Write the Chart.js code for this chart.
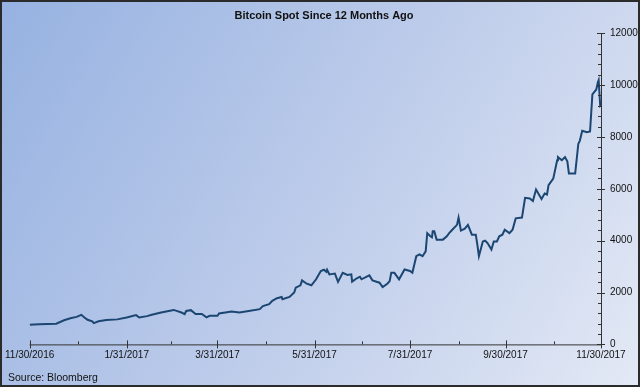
<!DOCTYPE html>
<html lang="en">
  <head>
    <meta charset="UTF-8" />
    <title>Bitcoin Spot Since 12 Months Ago</title>
    <style>
      * {
        margin: 0;
        padding: 0;
        box-sizing: border-box;
      }
      body {
        background: #ffffff;
      }
      .chartBox {
        width: 640px;
        height: 387px;
      }
    </style>
  </head>
  <body>
    <div class="chartBox">
      <canvas id="myChart"></canvas>
    </div>

    <script src="https://cdn.jsdelivr.net/npm/chart.js"></script>

    <script>
      // days since 11/30/2016 and spot price
      const days = [
        0, 6, 17, 22, 26, 30, 33, 35, 37, 40, 41, 44, 49, 56, 62, 68, 70, 75, 78,
        84, 92, 97, 99, 100, 103, 106, 110, 113, 115, 120, 121, 125, 129, 134,
        140, 147, 149, 153, 155, 158, 161, 161.5, 166, 169, 170, 173, 174, 177,
        180, 183, 186, 188, 189.5, 190, 191.5, 195, 197, 200, 203, 205.5, 206,
        209, 211, 212, 217, 219, 223.5, 225.5, 228.5, 230, 231, 233, 236, 239.5,
        243, 244.5, 247, 249, 251, 253, 254, 256, 257, 257.5, 258.5, 260, 264,
        266.5, 268, 270, 273, 274, 275.5, 278, 280, 282.5, 285, 286, 287, 289.5,
        291, 292.5, 295, 296.5, 298.5, 300, 302, 303.5, 306.5, 308.5, 310.5,
        314.5, 316.5, 319.5, 321.5, 323.5, 327, 329, 330.5, 331.5, 334.5, 337,
        337.5, 340, 342, 343.5, 344.5, 348.5, 350.5, 351.5, 353, 356, 358,
        359.5, 362, 363, 363.5, 364.5, 365,
      ];
      const spot = [
        760, 780, 800, 930, 1010, 1060, 1140, 1040, 950, 890, 820, 890, 940, 965,
        1040, 1130, 1040, 1090, 1140, 1230, 1330, 1230, 1170, 1290, 1320, 1170,
        1170, 1040, 1100, 1100, 1190, 1230, 1270, 1230, 1290, 1360, 1480, 1550,
        1680, 1780, 1830, 1740, 1830, 2000, 2190, 2280, 2470, 2340, 2280, 2510,
        2830, 2880, 2800, 2880, 2700, 2730, 2410, 2760, 2680, 2700, 2420, 2550,
        2610, 2510, 2660, 2470, 2380, 2210, 2340, 2440, 2760, 2760, 2510, 2890,
        2830, 2760, 3400, 3470, 3400, 3590, 4290, 4170, 4130, 4360, 4360, 4040,
        4040, 4170, 4290, 4420, 4610, 4890, 4390, 4460, 4610, 4230, 4230, 3850,
        3400, 3970, 4000, 3910, 3660, 3970, 3970, 4170, 4230, 4420, 4290, 4420,
        4860, 4890, 5650, 5630, 5530, 5970, 5610, 5820, 5780, 6140, 6390, 7100,
        7220, 7100, 7220, 7060, 6590, 6590, 7730, 7860, 8240, 8180, 8210, 9640,
        9830, 10110, 10190, 9200, 9230,
      ];
      const dateTicks = [0, 62, 120, 182, 243, 304, 365];
      const dateLabels = [
        "11/30/2016",
        "1/31/2017",
        "3/31/2017",
        "5/31/2017",
        "7/31/2017",
        "9/30/2017",
        "11/30/2017",
      ];
      const minorDays = [31, 90, 151, 212, 274, 335];
      const priceTicks = [0, 2000, 4000, 6000, 8000, 10000, 12000];
      const minorStep = 400;

      const ctx = document.getElementById("myChart");

      const points = days.map((d, i) => ({ x: d, y: spot[i] }));

      const panelBackground = {
        id: "panelBackground",
        beforeDraw(chart) {
          const { ctx, width, height } = chart;
          ctx.save();
          const grad = ctx.createLinearGradient(0, 0, width, height);
          grad.addColorStop(0, "#96b2e1");
          grad.addColorStop(0.5, "#bccbea");
          grad.addColorStop(1, "#e3e9f5");
          ctx.fillStyle = grad;
          ctx.fillRect(0, 0, width, height);
          ctx.strokeStyle = "#2b2b2b";
          ctx.lineWidth = 2;
          ctx.strokeRect(1, 1, width - 2, height - 2);
          ctx.restore();
        },
      };

      const axisLines = {
        id: "axisLines",
        afterDatasetsDraw(chart) {
          const { ctx, chartArea, scales } = chart;
          const { left, right, top, bottom } = chartArea;
          const x = scales.x;
          const y = scales.y;
          ctx.save();
          ctx.strokeStyle = "#333333";
          ctx.lineWidth = 1;
          ctx.beginPath();
          // x axis
          ctx.moveTo(left, bottom + 0.5);
          ctx.lineTo(right, bottom + 0.5);
          // y axis
          ctx.moveTo(right + 0.5, top);
          ctx.lineTo(right + 0.5, bottom);
          dateTicks.forEach((d) => {
            const px = Math.round(x.getPixelForValue(d)) + 0.5;
            ctx.moveTo(px, bottom - 4);
            ctx.lineTo(px, bottom + 4);
          });
          minorDays.forEach((d) => {
            const px = Math.round(x.getPixelForValue(d)) + 0.5;
            ctx.moveTo(px, bottom - 3);
            ctx.lineTo(px, bottom);
          });
          priceTicks.forEach((v) => {
            const py = Math.round(y.getPixelForValue(v)) + 0.5;
            ctx.moveTo(right - 4, py);
            ctx.lineTo(right + 4, py);
          });
          for (let v = minorStep; v < 12000; v += minorStep) {
            if (v % 2000 === 0) continue;
            const py = Math.round(y.getPixelForValue(v)) + 0.5;
            ctx.moveTo(right - 3, py);
            ctx.lineTo(right, py);
          }
          ctx.stroke();
          ctx.restore();
        },
      };

      const config = {
        type: "line",
        data: {
          datasets: [
            {
              label: "Bitcoin Spot",
              data: points,
              borderColor: "#1b4672",
              borderWidth: 2,
              pointRadius: 0,
              tension: 0,
              fill: false,
            },
          ],
        },
        options: {
          responsive: true,
          maintainAspectRatio: false,
          animation: false,
          layout: {
            padding: { left: 8, right: 0, top: 0, bottom: 0 },
          },
          scales: {
            x: {
              type: "linear",
              min: 0,
              max: 365,
              afterBuildTicks: (scale) => {
                scale.ticks = dateTicks.map((v) => ({ value: v }));
              },
              ticks: {
                autoSkip: false,
                maxRotation: 0,
                padding: 5,
                color: "#111111",
                font: { family: "Liberation Sans", size: 10 },
                callback: (v) => dateLabels[dateTicks.indexOf(v)],
              },
              grid: { display: false, drawTicks: false },
              border: { display: false },
            },
            y: {
              position: "right",
              min: 0,
              max: 12000,
              afterBuildTicks: (scale) => {
                scale.ticks = priceTicks.map((v) => ({ value: v }));
              },
              afterFit: (scale) => {
                scale.width = 39;
              },
              ticks: {
                padding: 9,
                color: "#111111",
                font: { family: "Liberation Sans", size: 10 },
                callback: (v) => String(v),
              },
              grid: { display: false, drawTicks: false },
              border: { display: false },
            },
          },
          plugins: {
            legend: { display: false },
            tooltip: { enabled: false },
            title: {
              display: true,
              text: "Bitcoin Spot Since 12 Months Ago",
              color: "#111111",
              font: { family: "Liberation Sans", size: 11, weight: "bold" },
              padding: { top: 9, bottom: 11 },
            },
            subtitle: {
              display: true,
              position: "bottom",
              align: "start",
              text: "Source: Bloomberg",
              color: "#111111",
              font: { family: "Liberation Sans", size: 10.5 },
              padding: { top: 5, bottom: 3 },
            },
          },
        },
        plugins: [panelBackground, axisLines],
      };

      const myChart = new Chart(ctx, config);
    </script>
  </body>
</html>
